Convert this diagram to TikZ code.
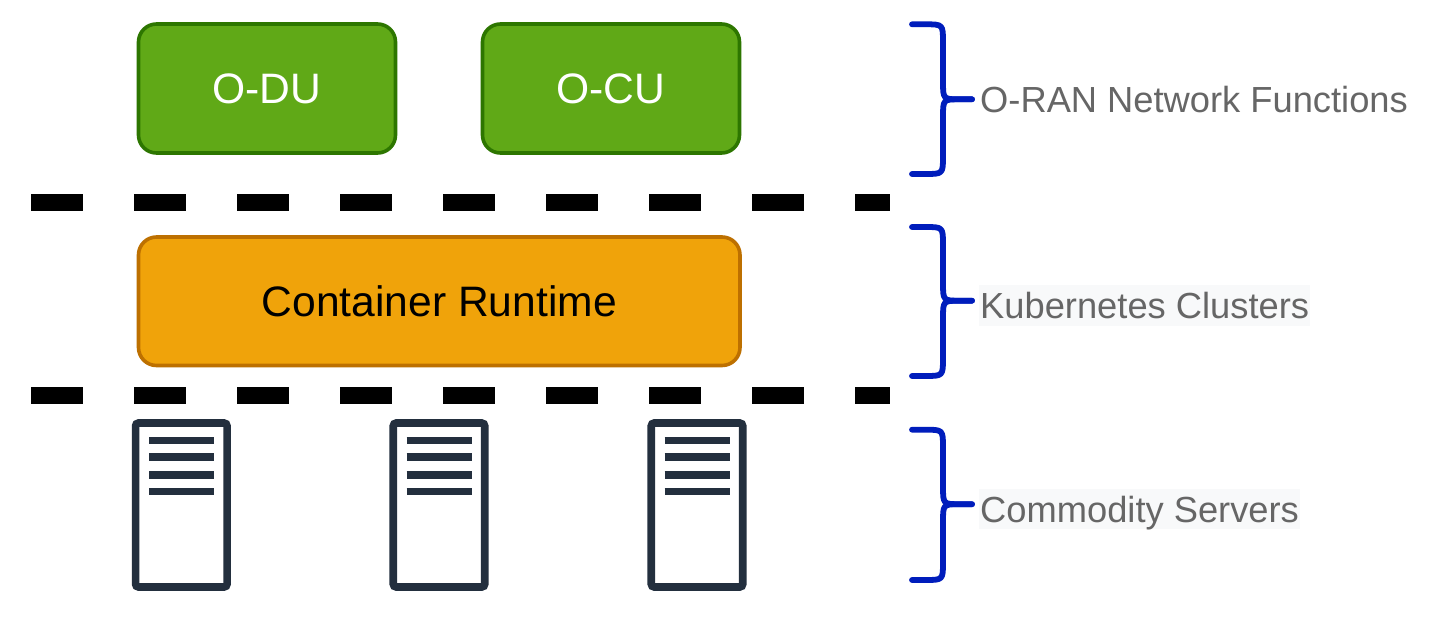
\documentclass[tikz,border=0pt]{standalone}
\usepackage{fontspec}
\setmainfont{Liberation Sans}
\usetikzlibrary{calc}
\definecolor{gfill}{HTML}{60A917}
\definecolor{gline}{HTML}{2D7600}
\definecolor{ofill}{HTML}{F0A30A}
\definecolor{oline}{HTML}{BD7000}
\definecolor{brc}{HTML}{001DBC}
\definecolor{lbl}{HTML}{666666}
\definecolor{lblbg}{HTML}{F8F9FA}
\definecolor{srv}{HTML}{232F3E}
\tikzset{
  boxtext/.style={font=\fontsize{42.6}{50}\selectfont, text height=30.5pt, text depth=0pt},
  nf/.style={boxtext, draw=gline, fill=gfill, line width=3.6pt, rounded corners=18pt,
    minimum width=257pt, minimum height=129pt, text=white},
  rt/.style={boxtext, draw=oline, fill=ofill, line width=3.6pt, rounded corners=18pt,
    minimum width=601.5pt, minimum height=128.5pt, text=black},
  sep/.style={line width=17pt, dash pattern=on 51.7pt off 51.3pt, line cap=butt},
  brace/.style={draw=brc, line width=5.8pt, line cap=round, line join=round},
  lab/.style={anchor=west, text=lbl, font=\fontsize{36.3}{43}\selectfont,
    text height=26pt, text depth=0pt, inner xsep=1pt, minimum height=40.5pt},
  labbg/.style={lab, fill=lblbg},
  server/.style={draw=srv, fill=white, line width=7.6pt, rounded corners=3pt,
    minimum width=91.5pt, minimum height=164pt, inner sep=0pt},
  srvline/.style={draw=srv, line width=7.7pt, line cap=butt}
}
\newcommand{\mybrace}[4]{% name, top, mid, bottom
  \coordinate (#1t) at (912,#2);
  \coordinate (#1m) at (972,#3);
  \coordinate (#1b) at (912,#4);
  \draw[brace] (#1t) -- (925,#2) .. controls (943,#2) .. (943,#2+18)
    -- (943,#3-18) .. controls (943,#3) .. (960,#3) -- (#1m);
  \draw[brace] (#1m) -- (960,#3) .. controls (943,#3) .. (943,#3+18)
    -- (943,#4-18) .. controls (943,#4) .. (925,#4) -- (#1b);
}
\begin{document}
\begin{tikzpicture}[x=1pt,y=-1pt]
\useasboundingbox (0,0) rectangle (1432,637);
\fill[white] (0,0) rectangle (1432,637);

% network functions
\node[nf] (odu) at (267,88.5) {O-DU};
\node[nf] (ocu) at (611,88.5) {O-CU};

% separators
\coordinate (d1a) at (31,202);
\coordinate (d1b) at (890,202);
\coordinate (d2a) at (31,395.3);
\coordinate (d2b) at (890,395.3);
\draw[sep] (d1a) -- (d1b);
\draw[sep] (d2a) -- (d2b);

% container runtime
\node[rt] (crt) at (439.25,301.25) {Container Runtime};

% servers
\foreach \i/\xx in {1/181.3, 2/439, 3/697} {
  \node[server] (s\i) at (\xx,505) {};
  \foreach \yy in {-64.5,-48,-30.3,-13.5} {
    \draw[srvline] ($(s\i.center)+(-32.3,\yy)$) -- ($(s\i.center)+(32.7,\yy)$);
  }
}

% braces
\mybrace{b1}{24.3}{99.3}{174}
\mybrace{b2}{227}{300.7}{376}
\mybrace{b3}{429.7}{504.2}{580}

% labels
\node[lab] (l1) at (979,99) {O-RAN Network Functions};
\node[labbg] (l2) at (979,305.3) {Kubernetes Clusters};
\node[labbg] (l3) at (979,509.2) {Commodity Servers};
\end{tikzpicture}
\end{document}
